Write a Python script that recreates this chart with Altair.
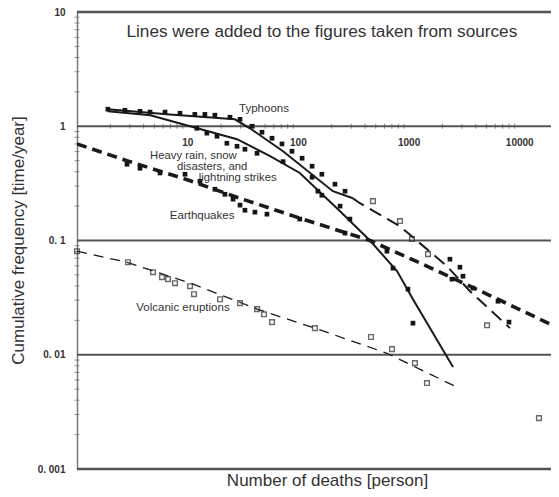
import altair as alt
import pandas as pd

# ---- fitted lines (x = deaths, y = cumulative frequency) ----
typhoon_solid_x = [1.9, 6.9, 26.7, 36.5, 72.7, 205, 311]
typhoon_solid_y = [1.41, 1.27, 1.15, 0.96, 0.604, 0.27, 0.234]
typhoon_dash_x = [311, 360, 828, 2200, 3550, 8150]
typhoon_dash_y = [0.234, 0.212, 0.133, 0.0596, 0.036, 0.0171]

heavy_x = [1.9, 4.6, 10.5, 27.9, 55, 103, 238, 443, 778, 1084, 2494]
heavy_y = [1.35, 1.25, 1.0, 0.77, 0.55, 0.39, 0.18, 0.1, 0.054, 0.0306, 0.0078]

quake_x = [1.0, 3.0, 9.9, 29.7, 103, 443, 1545, 5380, 19000]
quake_y = [0.70, 0.49, 0.34, 0.234, 0.157, 0.1, 0.058, 0.033, 0.0185]

volcano_x = [1.0, 2.83, 11.2, 42.3, 141, 631, 2600]
volcano_y = [0.0806, 0.0645, 0.0415, 0.0251, 0.0171, 0.0103, 0.0053]

# ---- data points ----
filled_x = [1.9, 2.71, 3.71, 4.57, 6.24, 8.51, 11.6, 14.3, 17.6, 24.1, 29.7, 38.1, 46.9, 57.8,
            71.1, 87.5, 108, 133, 163, 214, 264,
            2340, 2880, 3070, 3780, 6360, 7990,
            12.1, 14.9, 18.4, 22.6, 27.9, 32.9, 42.3, 72.7, 133, 150, 163, 238, 292, 716, 977, 1084,
            2.83, 3.71, 5.62, 9.46, 12.9, 17.6, 21.7, 25.7, 29.7, 32.9, 40.5, 52.0, 103, 264, 631, 2440]
filled_y = [1.41, 1.38, 1.35, 1.33, 1.33, 1.30, 1.27, 1.27, 1.25, 1.20, 1.15, 1.0, 0.886, 0.785,
            0.70, 0.604, 0.525, 0.447, 0.38, 0.311, 0.27,
            0.0686, 0.0584, 0.0487, 0.0383, 0.0294, 0.0193,
            0.96, 0.87, 0.818, 0.71, 0.668, 0.629, 0.58, 0.49, 0.358, 0.27, 0.249, 0.2, 0.154, 0.0573, 0.0375, 0.0189,
            0.465, 0.429, 0.39, 0.38, 0.33, 0.281, 0.254, 0.23, 0.204, 0.184, 0.177, 0.17, 0.154, 0.116, 0.0806, 0.0459]

open_x = [1.0, 2.89, 4.86, 5.86, 6.64, 7.68, 10.5, 11.4, 19.6, 29.7, 42.3, 48.9, 57.8, 141,
          453, 701, 1130, 1451, 472, 828, 1062, 1482, 5060, 14900]
open_y = [0.0806, 0.0645, 0.0528, 0.0477, 0.0459, 0.0423, 0.0398, 0.0339, 0.0306, 0.0283, 0.0251,
          0.0226, 0.0193, 0.0171, 0.0143, 0.0112, 0.00845, 0.00565, 0.221, 0.148, 0.103, 0.076,
          0.0181, 0.00279]

# ---- text ----
label_text = ["Typhoons", "Earthquakes", "Volcanic eruptions"]
label_x = [48.9, 13.5, 9.07]
label_y = [1.41, 0.163, 0.0256]

rain_text = ["Heavy rain, snow", "disasters, and", "lightning strikes"]
rain_x = [4.57, 8.0, 12.6]
rain_y = [0.55, 0.438, 0.351]

note_text = ["Lines were added to the figures taken from sources"]
note_x = [163]
note_y = [6.64]

xtick_values = [10, 100, 1000, 10000]
xtick_y = [0.71, 0.71, 0.71, 0.71]
ytick_values = [0.001, 0.01, 0.1, 1, 10]
inner_lines = [0.01, 0.1, 1]
frame_lines = [0.001, 10]
# minor ticks drawn along the old x axis (the y = 1 line) and on the left axis
x_minor = [2, 3, 4, 5, 6, 7, 8, 9, 20, 30, 40, 50, 60, 70, 80, 90,
           200, 300, 400, 500, 600, 700, 800, 900, 2000, 3000, 4000, 5000, 6000, 7000, 8000, 9000]
y_minor = [0.002, 0.003, 0.004, 0.005, 0.006, 0.007, 0.008, 0.009,
           0.02, 0.03, 0.04, 0.05, 0.06, 0.07, 0.08, 0.09,
           0.2, 0.3, 0.4, 0.5, 0.6, 0.7, 0.8, 0.9, 2, 3, 4, 5, 6, 7, 8, 9]

FONT = "Liberation Sans"
xs = alt.Scale(type="log", domain=[1, 19150])
ys = alt.Scale(type="log", domain=[0.001, 10])

xaxis = alt.Axis(labels=False, ticks=False, domain=False, grid=False,
                 title="Number of deaths [person]", titleFont=FONT, titleFontSize=17,
                 titleFontWeight="normal", titleColor="#333333", titleX=250, titleY=16,
                 titleBaseline="alphabetic", titleAlign="center")
yaxis = alt.Axis(values=ytick_values, grid=False,
                 domain=True, domainColor="#7a7a7a", domainWidth=1.5, ticks=False,
                 labelExpr="replace(format(datum.value, '~g'), '.', '. ')",
                 labelFont=FONT, labelFontSize=10, labelFontWeight="bold", labelColor="#333333",
                 labelPadding=12, labelFlush=False,
                 title="Cumulative frequency [time/year]", titleFont=FONT, titleFontSize=17,
                 titleFontWeight="normal", titleColor="#333333", titleX=-59, titleY=228,
                 titleAngle=270, titleAlign="center", titleBaseline="middle")


def X():
    return alt.X("x:Q", scale=xs, axis=xaxis)


def Y():
    return alt.Y("y:Q", scale=ys, axis=yaxis)


def line(xv, yv, width, dash=None):
    df = pd.DataFrame({"x": xv, "y": yv, "o": list(range(len(xv)))})
    kw = dict(color="#1a1a1a", strokeWidth=width, clip=True)
    if dash:
        kw["strokeDash"] = dash
    return alt.Chart(df).mark_line(**kw).encode(x=X(), y=Y(), order="o:Q")


grid = alt.Chart(pd.DataFrame({"y": inner_lines})).mark_rule(
    color="#555555", strokeWidth=2).encode(y=Y())
frame = alt.Chart(pd.DataFrame({"y": frame_lines})).mark_rule(
    color="#555555", strokeWidth=2.4).encode(y=Y())

x_minor_ticks = alt.Chart(pd.DataFrame({"x": x_minor, "y": [1] * len(x_minor)})).mark_tick(
    orient="vertical", size=5, thickness=1, color="#555555").encode(x=X(), y=Y())
y_minor_ticks = alt.Chart(pd.DataFrame({"y": y_minor, "x": [1] * len(y_minor)})).mark_tick(
    orient="horizontal", size=5, thickness=1, color="#666666").encode(x=X(), y=Y())

layers = [
    grid,
    frame,
    x_minor_ticks,
    y_minor_ticks,
    line(typhoon_solid_x, typhoon_solid_y, 2.0),
    line(typhoon_dash_x, typhoon_dash_y, 2.0, [13, 7]),
    line(heavy_x, heavy_y, 2.0),
    line(quake_x, quake_y, 3.6, [10, 6]),
    line(volcano_x, volcano_y, 1.3, [10, 7]),
    alt.Chart(pd.DataFrame({"x": filled_x, "y": filled_y})).mark_square(
        filled=True, size=22, color="#151515", opacity=1).encode(x=X(), y=Y()),
    alt.Chart(pd.DataFrame({"x": open_x, "y": open_y})).mark_square(
        filled=False, size=22, stroke="#2a2a2a", strokeWidth=1.4).encode(x=X(), y=Y()),
    alt.Chart(pd.DataFrame({"x": label_x, "y": label_y, "t": label_text})).mark_text(
        font=FONT, fontSize=11.5, color="#333333", align="center", baseline="middle").encode(
        x=X(), y=Y(), text="t:N"),
    alt.Chart(pd.DataFrame({"x": rain_x, "y": rain_y, "t": rain_text})).mark_text(
        font=FONT, fontSize=11.3, color="#333333", align="left", baseline="middle").encode(
        x=X(), y=Y(), text="t:N"),
    alt.Chart(pd.DataFrame({"x": note_x, "y": note_y, "t": note_text})).mark_text(
        font=FONT, fontSize=17.2, color="#333333", align="center", baseline="middle").encode(
        x=X(), y=Y(), text="t:N"),
    alt.Chart(pd.DataFrame({"x": xtick_values, "y": xtick_y,
                            "t": [str(v) for v in xtick_values]})).mark_text(
        font=FONT, fontSize=10, fontWeight="bold", color="#333333", align="center",
        baseline="middle").encode(x=X(), y=Y(), text="t:N"),
]

chart = alt.layer(*layers).properties(
    width=474, height=457, autosize="none",
    padding={"left": 69, "top": 4, "right": 0, "bottom": 20},
).configure_view(strokeWidth=0).configure(background="white")

chart.save("out.html", embed_options={"renderer": "svg", "actions": False})
